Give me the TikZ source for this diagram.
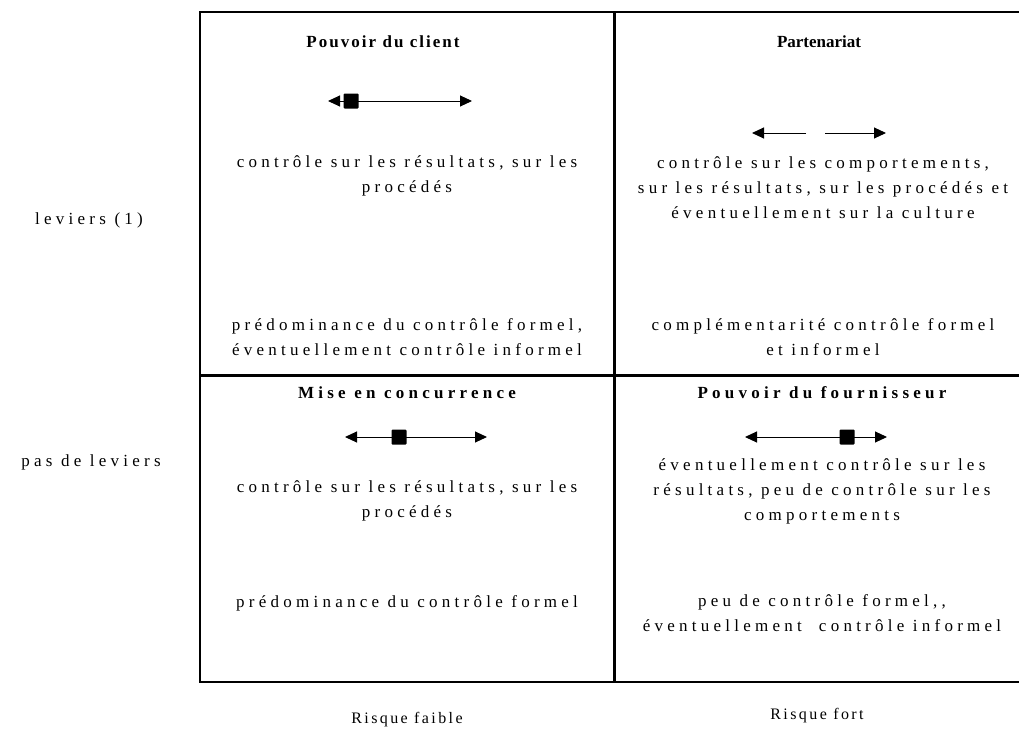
\documentclass[tikz,border=0pt]{standalone}
\usepackage{fontspec}
\setmainfont{Liberation Serif}
\newfontfamily\bodyfont{Liberation Serif}[LetterSpace=25]
\newfontfamily\midfont{Liberation Serif}[LetterSpace=12]
\newfontfamily\plainfont{Liberation Serif}
\newfontfamily\lblfont{Liberation Serif}[LetterSpace=15]
\usetikzlibrary{arrows.meta}
\begin{document}
\begin{tikzpicture}[x=1pt,y=-1pt,
  txt/.style={font=\bodyfont\fontsize{17}{25}\selectfont, inner sep=0pt, align=center, anchor=base},
  lbl/.style={font=\lblfont\fontsize{16}{24}\selectfont, inner sep=0pt, anchor=base},
  ttl/.style={txt, font=\bodyfont\fontsize{17}{25}\selectfont\bfseries},
  arr/.style={line width=1pt, -{Triangle[length=12pt,width=11pt]}},
  sq/.style={fill=black, minimum size=15pt, inner sep=0pt, rounded corners=1pt}]
\useasboundingbox (0,0) rectangle (1019,736);
% grid
\draw[line width=2.5pt] (1040,12) -- (200,12) -- (200,682) -- (1040,682);
\draw[line width=3pt] (614,12) -- (614,682);
\draw[line width=3pt] (200,375) -- (1040,375);
% row / column labels
\node[txt] (l1) at (89,224) {leviers (1)};
\node[txt] (l2) at (91,466) {pas de leviers};
\node[lbl] (c1) at (407,723) {Risque faible};
\node[lbl] (c2) at (817,719) {Risque fort};
% Q1
\node[ttl, font=\midfont\fontsize{17}{25}\selectfont\bfseries] (t1) at (383,47) {Pouvoir du client};
\coordinate (a1l) at (328,101); \coordinate (a1r) at (472,101);
\node[sq] (s1) at (351,101) {};
\draw[arr] (s1.center) -- (a1l);
\draw[arr] (s1.center) -- (a1r);
\node[txt] (q1a) at (407,192) {contrôle sur les résultats, sur les\\procédés};
\node[txt] (q1b) at (407,355) {prédominance du contrôle formel,\\éventuellement contrôle informel};
% Q2
\node[ttl, font=\plainfont\fontsize{17}{25}\selectfont\bfseries] (t2) at (819,47) {Partenariat};
\coordinate (a2a) at (806,133); \coordinate (a2b) at (752,133);
\coordinate (a2c) at (825,133); \coordinate (a2d) at (886,133);
\draw[arr] (a2a) -- (a2b);
\draw[arr] (a2c) -- (a2d);
\node[txt] (q2a) at (823,218) {contrôle sur les comportements,\\sur les résultats, sur les procédés et\\éventuellement sur la culture};
\node[txt] (q2b) at (823,355) {complémentarité contrôle formel\\et informel};
% Q3
\node[ttl] (t3) at (407,398) {Mise en concurrence};
\coordinate (a3l) at (345,437); \coordinate (a3r) at (487,437);
\node[sq] (s3) at (399,437) {};
\draw[arr] (s3.center) -- (a3l);
\draw[arr] (s3.center) -- (a3r);
\node[txt] (q3a) at (407,517) {contrôle sur les résultats, sur les\\procédés};
\node[txt] (q3b) at (407,607) {prédominance du contrôle formel};
% Q4
\node[ttl] (t4) at (822,398) {Pouvoir du fournisseur};
\coordinate (a4l) at (745,437); \coordinate (a4r) at (887,437);
\node[sq] (s4) at (847,437) {};
\draw[arr] (s4.center) -- (a4l);
\draw[arr] (s4.center) -- (a4r);
\node[txt] (q4a) at (822,520) {éventuellement contrôle sur les\\résultats, peu de contrôle sur les\\comportements};
\node[txt] (q4b) at (822,631) {peu de contrôle formel,,\\éventuellement\ \ contrôle informel};
\end{tikzpicture}
\end{document}
